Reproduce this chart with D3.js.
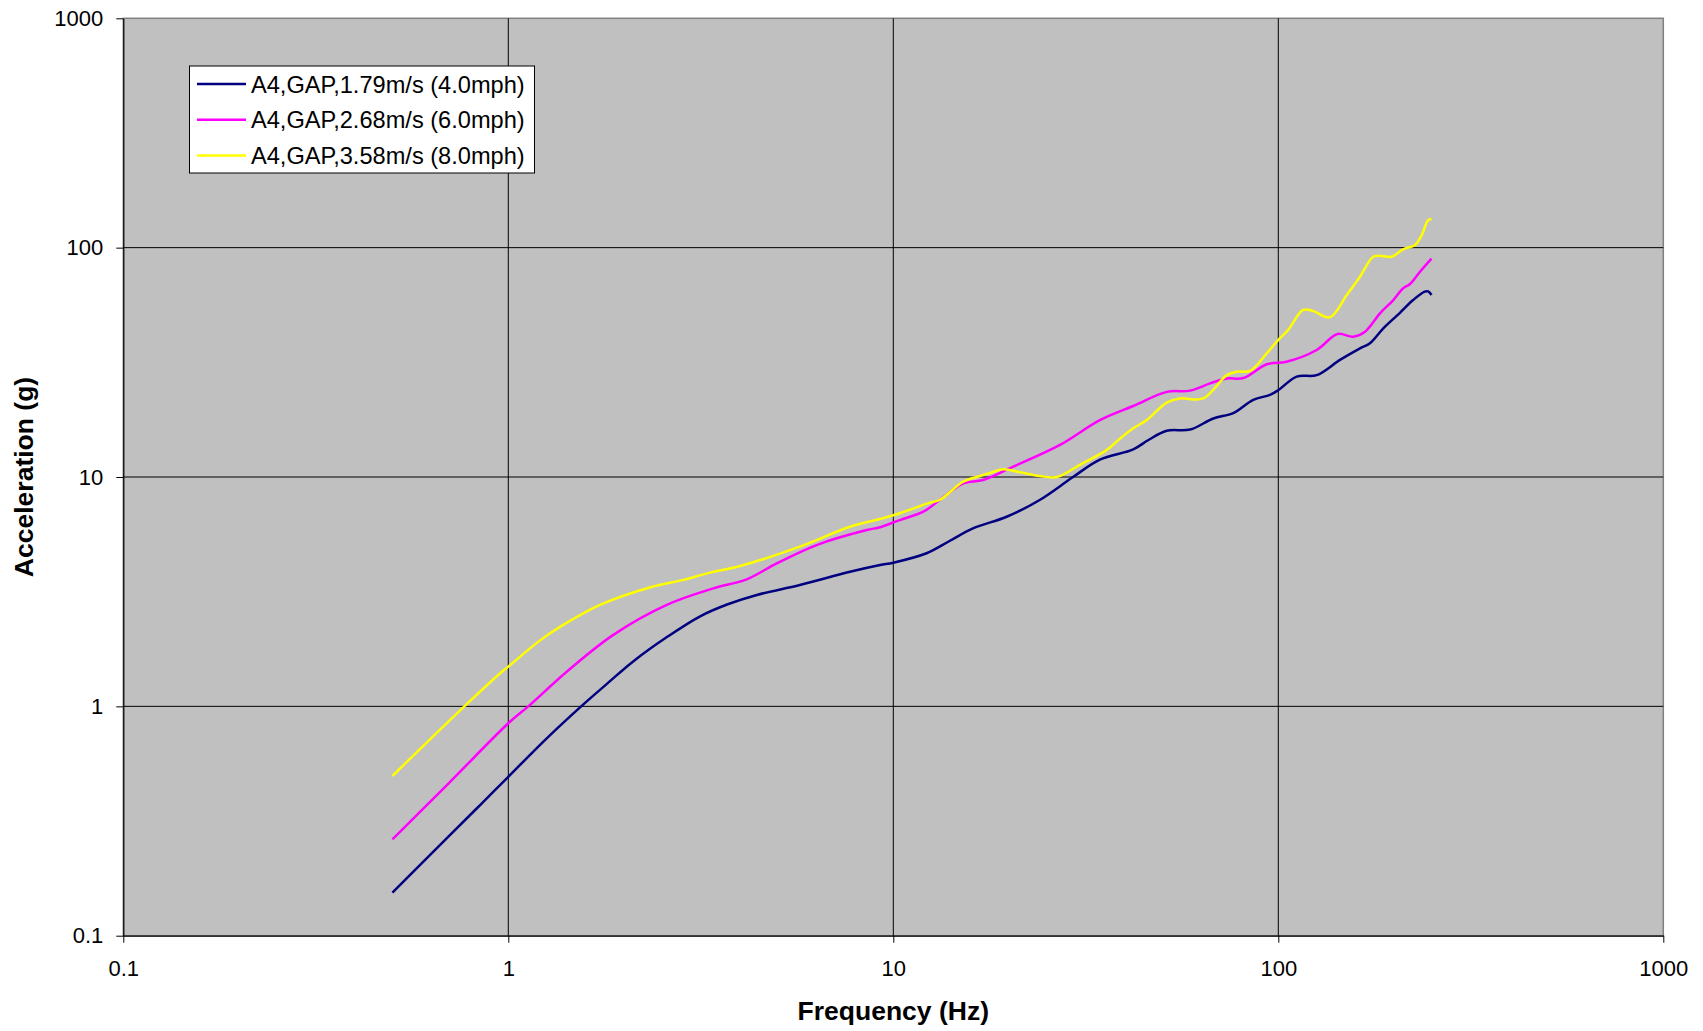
<!DOCTYPE html>
<html>
<head>
<meta charset="utf-8">
<script src="https://cdn.jsdelivr.net/npm/d3@7"></script>
<style>
  html, body { margin: 0; padding: 0; background: #ffffff; }
  svg { display: block; font-family: "Liberation Sans", Arial, sans-serif; }
</style>
</head>
<body>
<svg id="chart" width="1703" height="1031"></svg>
<script>
// Series names (legend order = draw order)
const seriesNames = [
  "A4,GAP,1.79m/s (4.0mph)",
  "A4,GAP,2.68m/s (6.0mph)",
  "A4,GAP,3.58m/s (8.0mph)"
];
const seriesColors = ["#000080", "#FF00FF", "#FFFF00"];

// 1.79 m/s
const freqBlue = [0.5, 0.7, 0.85, 1, 1.245, 1.546, 1.8, 2.11, 2.6, 3.15, 3.7, 4.42, 5.72, 7.72, 9.24, 10, 12.2, 14, 16.1, 19.7, 24, 29.3, 34.4, 42, 46, 51.3, 59, 67.8, 76.4, 86.1, 95.1, 100, 111.6, 125.8, 144.6, 163, 173, 187.4, 207, 224, 240, 245, 250];
const accBlue  = [0.154, 0.271, 0.375, 0.493, 0.713, 1.0, 1.25, 1.57, 2.02, 2.47, 2.78, 3.06, 3.38, 3.86, 4.13, 4.23, 4.65, 5.26, 5.97, 6.71, 7.94, 10.0, 11.9, 13.2, 14.5, 15.9, 16.1, 18.0, 19.0, 21.7, 22.8, 23.9, 27.4, 27.8, 32.4, 36.4, 38.3, 44.5, 52.0, 59.1, 64.3, 64.5, 62.2];

// 2.68 m/s
const freqMag = [0.5, 0.7, 1, 1.127, 1.418, 1.874, 2.58, 3.41, 4.16, 4.98, 6.32, 8.53, 9.24, 10.4, 11.97, 13.2, 15.2, 17.1, 20.5, 27.1, 34.4, 42, 51.3, 59, 66.5, 73.5, 81.1, 93.3, 105, 125.8, 142.5, 156.6, 168, 183.7, 199, 211, 219.8, 233.4, 250];
const accMag  = [0.263, 0.462, 0.844, 1.0, 1.416, 2.05, 2.77, 3.27, 3.58, 4.20, 5.05, 5.87, 6.04, 6.49, 7.06, 7.94, 9.39, 9.7, 11.1, 13.8, 17.7, 20.4, 23.5, 23.8, 25.6, 26.9, 27.0, 31.0, 31.8, 35.8, 42.0, 40.9, 43.0, 51.7, 59.1, 66.5, 69.4, 78.5, 89.5];

// 3.58 m/s
const freqYel = [0.5, 0.6, 0.769, 0.951, 1, 1.2, 1.362, 1.73, 2.33, 2.85, 3.34, 4.0, 5.72, 7.72, 9.24, 10.4, 12.45, 13.2, 15.2, 16.8, 17.8, 19.3, 21.3, 24, 26.6, 30.5, 35.8, 38.8, 42, 45.5, 51.3, 55.5, 63.8, 73.5, 78, 84.4, 93.3, 100, 106, 116, 123, 136, 150.6, 163, 176.5, 185.6, 197, 211, 226.5, 235.8, 245.3, 250];
const accYel  = [0.497, 0.67, 1.0, 1.39, 1.49, 1.92, 2.22, 2.77, 3.30, 3.56, 3.83, 4.09, 4.97, 6.07, 6.56, 6.95, 7.73, 7.94, 9.54, 10.1, 10.4, 10.8, 10.5, 10.1, 10.0, 11.3, 13.1, 14.7, 16.3, 17.7, 21.1, 22.0, 22.0, 27.8, 28.8, 29.0, 34.6, 39.6, 43.7, 53.5, 53.0, 49.7, 62.2, 74.7, 91.3, 92, 91.3, 98.4, 102.7, 113.5, 132, 133];

// Axis ticks
const xTicks = [0.1, 1, 10, 100, 1000];
const xTickLabels = ["0.1", "1", "10", "100", "1000"];
const yTicks = [0.1, 1, 10, 100, 1000];
const yTickLabels = ["0.1", "1", "10", "100", "1000"];

const series = [
  { name: seriesNames[0], color: seriesColors[0], f: freqBlue, a: accBlue },
  { name: seriesNames[1], color: seriesColors[1], f: freqMag,  a: accMag  },
  { name: seriesNames[2], color: seriesColors[2], f: freqYel,  a: accYel  }
];

const svg = d3.select("#chart");
const plot = { left: 123.3, right: 1663.3, top: 18.3, bottom: 935.7 };

const x = d3.scaleLog().domain([0.1, 1000]).range([plot.left, plot.right]);
const y = d3.scaleLog().domain([0.1, 1000]).range([plot.bottom, plot.top]);

// Plot background
svg.append("rect")
  .attr("x", plot.left).attr("y", plot.top)
  .attr("width", plot.right - plot.left).attr("height", plot.bottom - plot.top)
  .attr("fill", "#C0C0C0")
  .attr("stroke", "#808080").attr("stroke-width", 1.5);

// Decade gridlines
const grid = svg.append("g").attr("stroke", "#000").attr("stroke-width", 1);
grid.selectAll("line.gx").data(xTicks.slice(1, -1)).join("line")
  .attr("x1", d => x(d)).attr("x2", d => x(d))
  .attr("y1", plot.top).attr("y2", plot.bottom);
grid.selectAll("line.gy").data(yTicks.slice(1, -1)).join("line")
  .attr("y1", d => y(d)).attr("y2", d => y(d))
  .attr("x1", plot.left).attr("x2", plot.right);

// Axes
const xAxis = d3.axisBottom(x)
  .tickValues(xTicks)
  .tickFormat((d, i) => xTickLabels[i])
  .tickSizeInner(7).tickSizeOuter(0).tickPadding(18);
const yAxis = d3.axisLeft(y)
  .tickValues(yTicks)
  .tickFormat((d, i) => yTickLabels[i])
  .tickSizeInner(7).tickSizeOuter(0).tickPadding(13);

const gx = svg.append("g").attr("transform", `translate(0,${plot.bottom})`).call(xAxis);
const gy = svg.append("g").attr("transform", `translate(${plot.left},0)`).call(yAxis);
[gx, gy].forEach(g => {
  g.select(".domain").attr("stroke", "#000").attr("stroke-width", 1.2);
  g.selectAll(".tick line").attr("stroke", "#000").attr("stroke-width", 1);
  g.selectAll(".tick text")
    .attr("fill", "#000")
    .style("font-family", "'Liberation Sans', Arial, sans-serif")
    .style("font-size", "22px");
});

// Data lines
const line = d3.line()
  .x(d => x(d[0]))
  .y(d => y(d[1]))
  .curve(d3.curveCatmullRom.alpha(0.5));

svg.append("g").selectAll("path").data(series).join("path")
  .attr("d", s => line(s.f.map((f, i) => [f, s.a[i]])))
  .attr("fill", "none")
  .attr("stroke", s => s.color)
  .attr("stroke-width", 2.5)
  .attr("stroke-linejoin", "round");

// Axis titles
svg.append("text")
  .attr("x", (plot.left + plot.right) / 2).attr("y", 1020)
  .attr("text-anchor", "middle")
  .style("font-size", "26.5px").style("font-weight", "bold")
  .text("Frequency (Hz)");

svg.append("text")
  .attr("transform", `translate(33,${(plot.top + plot.bottom) / 2}) rotate(-90)`)
  .attr("text-anchor", "middle")
  .style("font-size", "26.5px").style("font-weight", "bold")
  .text("Acceleration (g)");

// Legend
const legend = svg.append("g");
legend.append("rect")
  .attr("x", 189.5).attr("y", 66).attr("width", 345).attr("height", 107)
  .attr("fill", "#fff").attr("stroke", "#000").attr("stroke-width", 1);
const rows = legend.selectAll("g.row").data(series).join("g")
  .attr("transform", (d, i) => `translate(0,${84 + i * 35.8})`);
rows.append("line")
  .attr("x1", 197).attr("x2", 246).attr("y1", 0).attr("y2", 0)
  .attr("stroke", d => d.color).attr("stroke-width", 2.5);
rows.append("text")
  .attr("x", 251).attr("y", 8.5)
  .style("font-size", "23.6px")
  .text(d => d.name);
</script>
</body>
</html>
